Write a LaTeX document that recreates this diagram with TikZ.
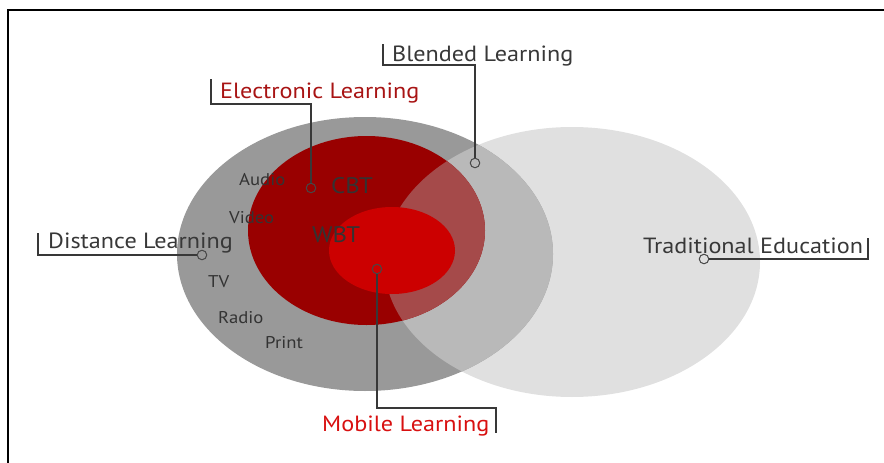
\documentclass[tikz,border=0pt]{standalone}
\usepackage{fontspec}
\setmainfont{PT Sans}[FakeStretch=1.1]
\begin{document}
\begin{tikzpicture}[x=1pt,y=-1pt,
  conn/.style={draw=black!78, line width=1.8pt},
  pin/.style={circle, draw=black!72, line width=1pt, minimum size=9.5pt, inner sep=0pt},
  lbl/.style={anchor=base west, inner sep=0pt, text=black!78, font=\fontsize{22}{26}\selectfont},
  inner/.style={anchor=base west, inner sep=0pt, text=black!80, font=\fontsize{17}{20}\selectfont},
  big/.style={anchor=base west, inner sep=0pt, text=black!80, font=\fontsize{22.5}{26}\selectfont}]
\useasboundingbox (0,0) rectangle (884,463);
\definecolor{lgray}{HTML}{E0E0E0}
\definecolor{dgray}{HTML}{999999}
\definecolor{mgray}{HTML}{B9B9B9}
\definecolor{dred}{HTML}{990000}
\definecolor{bred}{HTML}{CC0000}
\definecolor{ored}{HTML}{A54A4A}
\definecolor{elred}{HTML}{A81414}
\definecolor{mlred}{HTML}{D81010}
% frame
\draw[line width=1.2pt] (8,463) -- (8,10) -- (884,10);
% ellipses
\fill[lgray] (572,262) ellipse [x radius=188, y radius=135];
\fill[dgray] (365,254) ellipse [x radius=188, y radius=137];
\begin{scope}
  \clip (365,254) ellipse [x radius=188, y radius=137];
  \fill[mgray] (572,262) ellipse [x radius=188, y radius=135];
\end{scope}
\fill[dred] (366.5,230.5) ellipse [x radius=118.5, y radius=94.5];
\begin{scope}
  \clip (366.5,230.5) ellipse [x radius=118.5, y radius=94.5];
  \fill[ored] (572,262) ellipse [x radius=188, y radius=135];
\end{scope}
\fill[bred] (392,250.5) ellipse [x radius=63, y radius=43.5];
% inner texts
\node[inner] (audio) at (239,185) {Audio};
\node[inner] (video) at (229,223) {Video};
\node[inner] (tv) at (208,287) {TV};
\node[inner] (radio) at (218,323) {Radio};
\node[inner] (print) at (265,348) {Print};
\node[big] (cbt) at (331,193) {CBT};
\node[big] (wbt) at (312,242) {WBT};
% labels
\node[lbl] (bl) at (392,61) {Blended Learning};
\node[lbl, text=elred] (el) at (220,98) {Electronic Learning};
\node[lbl] (dl) at (48,248) {Distance Learning};
\node[lbl] (te) at (643,253) {Traditional Education};
\node[lbl, text=mlred] (ml) at (322,431) {Mobile Learning};
% pins
\node[pin] (blP) at (475,163) {};
\node[pin] (elP) at (311,188) {};
\node[pin] (dlP) at (202,255) {};
\node[pin] (teP) at (704,259) {};
\node[pin] (mlP) at (377,269) {};
\coordinate (blA) at (383,44);
\coordinate (elA) at (211,79);
\coordinate (dlA) at (38,233);
\coordinate (teA) at (868,238);
\coordinate (mlA) at (496,433);
% connectors
\draw[conn] (blA) -- ++(0,21) -| (blP.north);
\draw[conn] (elA) -- ++(0,25) -| (elP.north);
\draw[conn] (dlA) |- (dlP.west);
\draw[conn] (teA) |- (teP.east);
\draw[conn] (mlP.south) -- ++(0,134) -| (mlA);
\end{tikzpicture}
\end{document}
